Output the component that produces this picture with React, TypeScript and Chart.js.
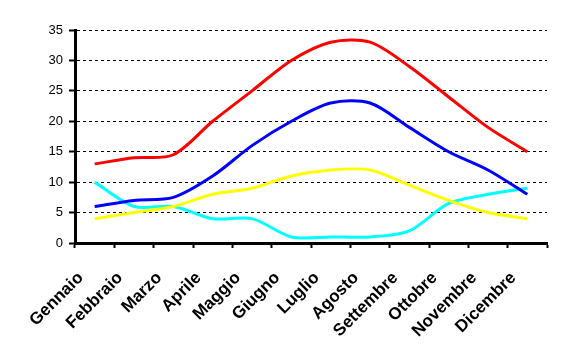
import React, { useEffect, useRef } from "react";
import { Chart, registerables } from "chart.js";

Chart.register(...registerables);

const months = [
  "Gennaio", "Febbraio", "Marzo", "Aprile", "Maggio", "Giugno",
  "Luglio", "Agosto", "Settembre", "Ottobre", "Novembre", "Dicembre",
];
const redSeries = [13, 14, 14.5, 20, 25, 30, 33, 33, 29, 24, 19, 15];
const blueSeries = [6, 7, 7.5, 11, 16, 20, 23, 23, 19, 15, 12, 8];
const yellowSeries = [4, 5, 6, 8, 9, 11, 12, 12, 9.5, 7, 5, 4];
const cyanSeries = [10, 6, 6, 4, 4, 1, 1, 1, 2, 6.5, 8, 9];
const yMin = 0;
const yMax = 35;
const yStep = 5;

export default function App() {
  const ref = useRef<HTMLCanvasElement | null>(null);

  useEffect(() => {
    if (!ref.current) return;
    const mk = (data: number[], color: string) => ({
      data,
      borderColor: color,
      backgroundColor: color,
      borderWidth: 3,
      pointRadius: 0,
      tension: 0.3,
      fill: false,
    });
    const chart = new Chart(ref.current, {
      type: "line",
      data: {
        labels: months,
        datasets: [
          mk(redSeries, "#FF0000"),
          mk(blueSeries, "#0000FF"),
          mk(yellowSeries, "#FFFF00"),
          mk(cyanSeries, "#00FFFF"),
        ],
      },
      options: {
        animation: false,
        responsive: false,
        devicePixelRatio: 1,
        layout: { padding: { left: 0, right: 16, top: 30, bottom: 0 } },
        plugins: { legend: { display: false }, tooltip: { enabled: false } },
        scales: {
          x: {
            offset: true,
            grid: {
              display: true,
              offset: true,
              drawOnChartArea: false,
              drawTicks: true,
              tickLength: 5,
              tickWidth: 2,
              tickColor: "#000",
            },
            border: { display: true, color: "#000", width: 3 },
            ticks: {
              autoSkip: false,
              maxRotation: 45,
              minRotation: 45,
              padding: 20,
              labelOffset: -14,
              color: "#000",
              font: { family: "Arial, 'Liberation Sans', sans-serif", size: 17, weight: "bold" },
            },
            afterFit: (s: any) => {
              s.height = 119;
            },
          },
          y: {
            min: yMin,
            max: yMax,
            grid: {
              color: "#000",
              lineWidth: 1,
              drawTicks: true,
              tickLength: 6,
              tickWidth: 2,
              tickColor: "#000",
              tickBorderDash: [],
            },
            border: { display: true, color: "#000", width: 3, dash: [3, 3] },
            ticks: {
              stepSize: yStep,
              padding: 6,
              color: "#000",
              font: { family: "Arial, 'Liberation Sans', sans-serif", size: 13 },
            },
            afterFit: (s: any) => {
              s.width = 75;
            },
          },
        },
      },
    });
    return () => chart.destroy();
  }, []);

  return (
    <div style={{ position: "absolute", left: 0, top: 0, width: 563, height: 362, background: "#fff" }}>
      <canvas ref={ref} width={563} height={362} style={{ width: 563, height: 362 }} />
    </div>
  );
}
